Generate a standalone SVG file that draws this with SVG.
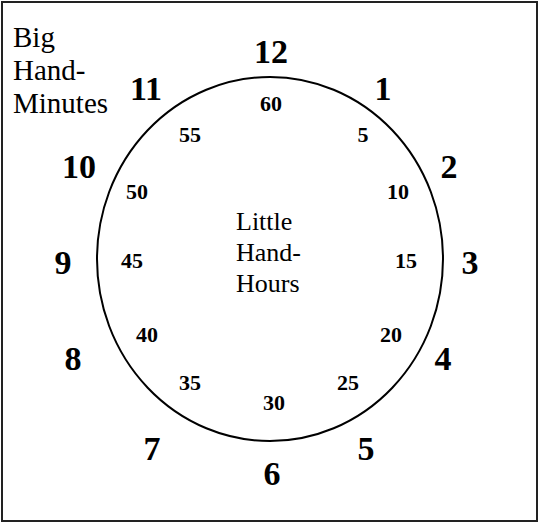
<svg xmlns="http://www.w3.org/2000/svg" width="540" height="523" viewBox="0 0 540 523">
<style>
.lbl{font-family:"Liberation Serif","Times New Roman",serif;fill:#000}
.big{font-size:29px}
.ctr{font-size:26px}
.hr{font-family:"Liberation Serif","Times New Roman",serif;font-weight:bold;font-size:34px;text-anchor:middle;fill:#000}
.mn{font-family:"Liberation Serif","Times New Roman",serif;font-weight:bold;font-size:22px;text-anchor:middle;fill:#000}
</style>
<rect x="0" y="0" width="540" height="523" fill="#fff"/>
<rect x="2" y="2" width="535" height="519" fill="none" stroke="#222" stroke-width="2"/>
<g id="clock-face">
<ellipse cx="270" cy="259" rx="173" ry="182" fill="none" stroke="#000" stroke-width="2"/>
</g>
<g id="label-big">
<text class="lbl big" x="13" y="47">Big</text>
<text class="lbl big" x="13" y="80">Hand-</text>
<text class="lbl big" x="13" y="113">Minutes</text>
</g>
<g id="label-little">
<text class="lbl ctr" x="236" y="230">Little</text>
<text class="lbl ctr" x="236" y="261">Hand-</text>
<text class="lbl ctr" x="236" y="292">Hours</text>
</g>
<g id="hours">
<text class="hr" x="271" y="63">12</text>
<text class="hr" x="383" y="100">1</text>
<text class="hr" x="449" y="178">2</text>
<text class="hr" x="470" y="274">3</text>
<text class="hr" x="443" y="370">4</text>
<text class="hr" x="366" y="460">5</text>
<text class="hr" x="272" y="485">6</text>
<text class="hr" x="152" y="460">7</text>
<text class="hr" x="73" y="370">8</text>
<text class="hr" x="63" y="274">9</text>
<text class="hr" x="79" y="178">10</text>
<text class="hr" x="146" y="100">11</text>
</g>
<g id="minutes">
<text class="mn" x="271" y="111">60</text>
<text class="mn" x="363" y="142">5</text>
<text class="mn" x="398" y="199">10</text>
<text class="mn" x="406" y="268">15</text>
<text class="mn" x="391" y="342">20</text>
<text class="mn" x="348" y="390">25</text>
<text class="mn" x="274" y="410">30</text>
<text class="mn" x="190" y="390">35</text>
<text class="mn" x="147" y="342">40</text>
<text class="mn" x="132" y="268">45</text>
<text class="mn" x="137" y="199">50</text>
<text class="mn" x="190" y="142">55</text>
</g>
</svg>
